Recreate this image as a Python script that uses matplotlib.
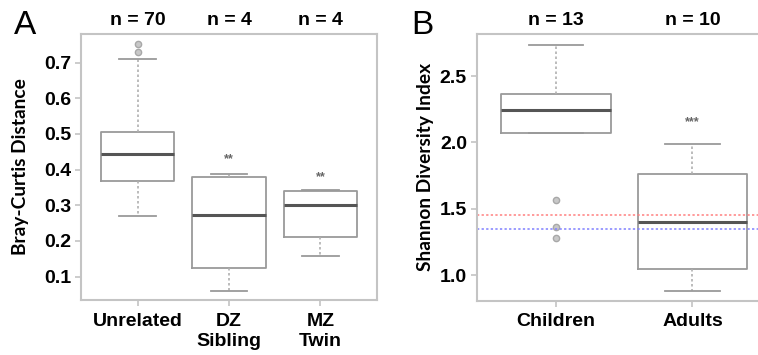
import matplotlib
matplotlib.use("Agg")
import matplotlib.pyplot as plt
import matplotlib.transforms as mtransforms

# panel A - Bray-Curtis distance between pairs
groups_a = ["Unrelated", "DZ\nSibling", "MZ\nTwin"]
n_a = [70, 4, 4]
q1_a = [0.367, 0.123, 0.210]
med_a = [0.444, 0.274, 0.302]
q3_a = [0.505, 0.378, 0.341]
lo_a = [0.270, 0.060, 0.157]
hi_a = [0.711, 0.389, 0.344]
fliers_a = [[0.730, 0.753], [], []]
stars_a = ["", "**", "**"]
star_y_a = [0, 0.430, 0.380]
yticks_a = [0.1, 0.2, 0.3, 0.4, 0.5, 0.6, 0.7]

# panel B - Shannon diversity
groups_b = ["Children", "Adults"]
n_b = [13, 10]
q1_b = [2.072, 1.047]
med_b = [2.244, 1.400]
q3_b = [2.362, 1.761]
lo_b = [2.072, 0.886]
hi_b = [2.733, 1.987]
fliers_b = [[1.570, 1.362, 1.280], []]
stars_b = ["", "***"]
star_y_b = [0, 2.155]
yticks_b = [1.0, 1.5, 2.0, 2.5]
red_line = 1.453
blue_line = 1.352

SPINE = "#c4c4c4"
EDGE = "#9a9a9a"
TICKFONT = "Liberation Sans"
LABELFONT = "Lato"


def make_stats(labels, q1, med, q3, lo, hi, fl):
    stats = []
    for i in range(len(labels)):
        stats.append(dict(label=labels[i], q1=q1[i], med=med[i], q3=q3[i],
                          whislo=lo[i], whishi=hi[i], fliers=fl[i]))
    return stats


def draw_panel(ax, stats, n, stars, star_y, yticks, ylim, xlim, ylabel, lpad):
    pos = list(range(1, len(stats) + 1))
    ax.bxp(stats, positions=pos, widths=0.8, showfliers=True,
           boxprops=dict(color=EDGE, linewidth=1.3),
           medianprops=dict(color="#555555", linewidth=2.2),
           whiskerprops=dict(color="#b0b0b0", linewidth=1.2, linestyle=(0, (1.5, 1.5))),
           capprops=dict(color=EDGE, linewidth=1.3),
           flierprops=dict(marker="o", markersize=4.5, markerfacecolor="#c8c8c8",
                           markeredgecolor="#a8a8a8"))
    ax.set_xlim(*xlim)
    ax.set_ylim(*ylim)
    ax.set_yticks(yticks)
    ax.set_yticklabels(["{:.1f}".format(v) for v in yticks], fontfamily=TICKFONT,
                       fontweight="bold", fontsize=14)
    ax.set_xticks(pos)
    ax.set_xticklabels([s["label"] for s in stats], fontfamily=TICKFONT,
                       fontweight="bold", fontsize=14, linespacing=1.25)
    ax.tick_params(axis="both", color=SPINE, length=4, width=1.2)
    ax.tick_params(axis="x", pad=5)
    ax.tick_params(axis="y", pad=3)
    for sp in ax.spines.values():
        sp.set_color(SPINE)
        sp.set_linewidth(1.5)
    ax.set_ylabel(ylabel, fontfamily=LABELFONT, fontweight="bold", fontsize=13.8,
                  labelpad=lpad)
    trans = mtransforms.blended_transform_factory(ax.transData, ax.transAxes)
    for p, k in zip(pos, n):
        ax.text(p, 1.05, "n = %d" % k, transform=trans, ha="center", va="center",
                fontfamily=TICKFONT, fontweight="bold", fontsize=14)
    for p, s, y in zip(pos, stars, star_y):
        if s:
            ax.text(p, y, s, ha="center", va="center", fontfamily=TICKFONT,
                    fontweight="bold", fontsize=9, color="#666666")
    return ax


fig = plt.figure(figsize=(7.58, 3.55), dpi=100)
ax_a = fig.add_axes([0.1069, 0.1549, 0.3905, 0.7493])
ax_b = fig.add_axes([0.6289, 0.1530, 0.3891, 0.7512])

draw_panel(ax_a, make_stats(groups_a, q1_a, med_a, q3_a, lo_a, hi_a, fliers_a),
           n_a, stars_a, star_y_a, yticks_a, (0.0345, 0.78), (0.38, 3.62),
           "Bray-Curtis Distance", 11)
draw_panel(ax_b, make_stats(groups_b, q1_b, med_b, q3_b, lo_b, hi_b, fliers_b),
           n_b, stars_b, star_y_b, yticks_b, (0.81, 2.816), (0.42, 2.58),
           "Shannon Diversity Index", 4)

ax_b.axhline(red_line, color="#ff8080", linewidth=1.1, linestyle=(0, (1.5, 1.5)))
ax_b.axhline(blue_line, color="#8080ff", linewidth=1.1, linestyle=(0, (1.5, 1.5)))

fig.text(0.018, 0.928, "A", fontfamily=TICKFONT, fontsize=24, ha="left", va="center")
fig.text(0.543, 0.928, "B", fontfamily=TICKFONT, fontsize=24, ha="left", va="center")

fig.savefig("out.png", dpi=100)
